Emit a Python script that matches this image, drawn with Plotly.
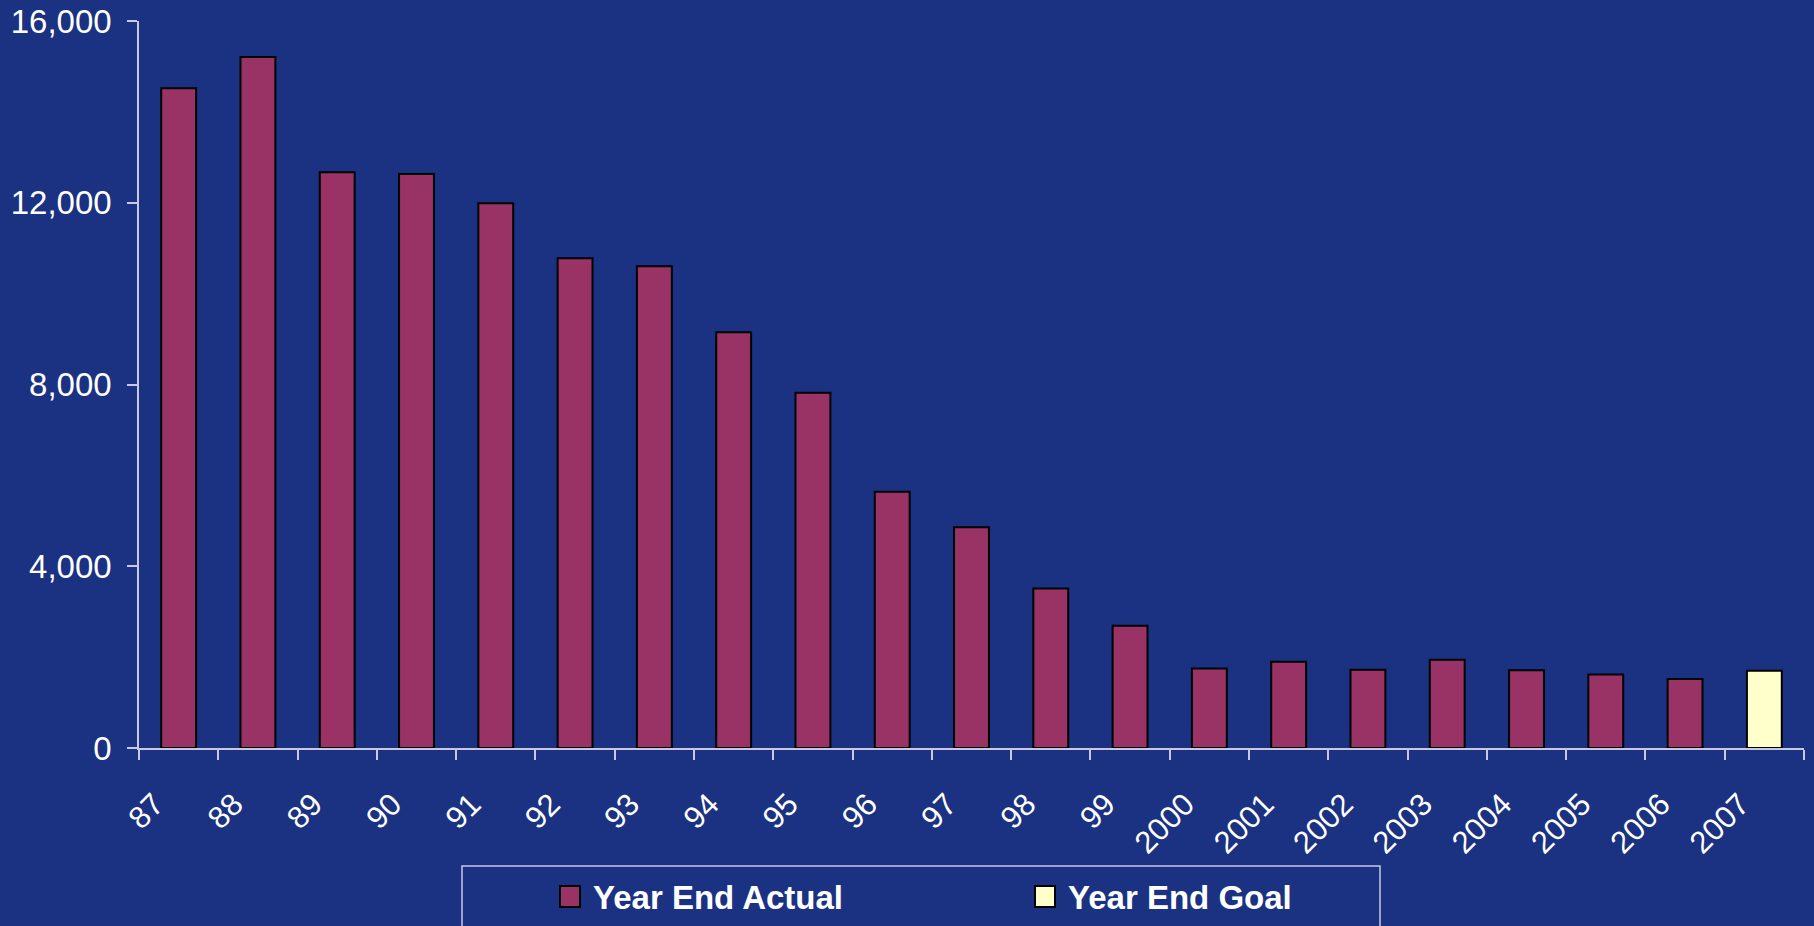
import plotly.graph_objects as go

# Year-end counts
years = ["87", "88", "89", "90", "91", "92", "93", "94", "95", "96", "97",
         "98", "99", "2000", "2001", "2002", "2003", "2004", "2005", "2006", "2007"]
actual = [14520, 15210, 12670, 12630, 11990, 10780, 10600, 9150, 7820, 5640, 4860,
          3510, 2690, 1750, 1900, 1720, 1940, 1710, 1620, 1520, None]
goal = [None] * 20 + [1700]
series_names = ["Year End Actual", "Year End Goal"]

BG = "#1b3282"
AXIS = "rgb(200,200,225)"
FONT = "Liberation Sans, Arial, sans-serif"
COLORS = ["#993366", "#ffffcc"]

W, H = 1814, 926
L, R, T, B = 139, 10, 21, 178
PW, PH = W - L - R, H - T - B


def px_x(x):
    return (x - L) / PW


def px_y(y):
    return (H - B - y) / PH


fig = go.Figure()
for vals, name, col in zip([actual, goal], series_names, COLORS):
    fig.add_trace(go.Bar(
        x=years, y=vals, name=name, width=0.44,
        marker=dict(color=col, line=dict(color="black", width=2)),
    ))

# legend box with swatches and bold labels below the axis
shapes = [dict(type="rect", xref="paper", yref="paper",
               x0=px_x(462), x1=px_x(1380), y0=px_y(866), y1=px_y(940),
               line=dict(color=AXIS, width=1.5), fillcolor=BG, layer="above")]
annotations = []
for sx, name, col in zip([560, 1035], series_names, COLORS):
    shapes.append(dict(type="rect", xref="paper", yref="paper",
                       x0=px_x(sx), x1=px_x(sx + 20), y0=px_y(886), y1=px_y(907),
                       line=dict(color="black", width=2), fillcolor=col, layer="above"))
    annotations.append(dict(xref="paper", yref="paper", x=px_x(sx + 31), y=px_y(897),
                            xanchor="left", yanchor="middle", showarrow=False,
                            text="<b>" + name + "</b>",
                            font=dict(family=FONT, size=33, color="white")))

fig.update_layout(
    width=W, height=H,
    paper_bgcolor=BG, plot_bgcolor=BG,
    barmode="overlay",
    margin=dict(l=L, r=R, t=T, b=B),
    font=dict(family=FONT, color="white", size=32),
    showlegend=False,
    shapes=shapes,
    annotations=annotations,
)

fig.update_xaxes(
    type="category", tickson="boundaries", automargin=False,
    showline=True, linecolor=AXIS, linewidth=1.5,
    ticks="outside", ticklen=10, tickcolor=AXIS, tickwidth=1.5,
    tickangle=-45, tickfont=dict(family=FONT, size=31, color="white"),
    ticklabelshift=-24, ticklabelstandoff=24,
    showgrid=False, zeroline=False,
)
fig.update_yaxes(
    range=[0, 16000], dtick=4000, tickformat=",", automargin=False,
    showline=True, linecolor=AXIS, linewidth=1.5,
    ticks="outside", ticklen=10, tickcolor=AXIS, tickwidth=1.5,
    tickfont=dict(family=FONT, size=33, color="white"),
    ticklabelstandoff=9,
    showgrid=False, zeroline=False,
)

fig.write_html("out.html")
